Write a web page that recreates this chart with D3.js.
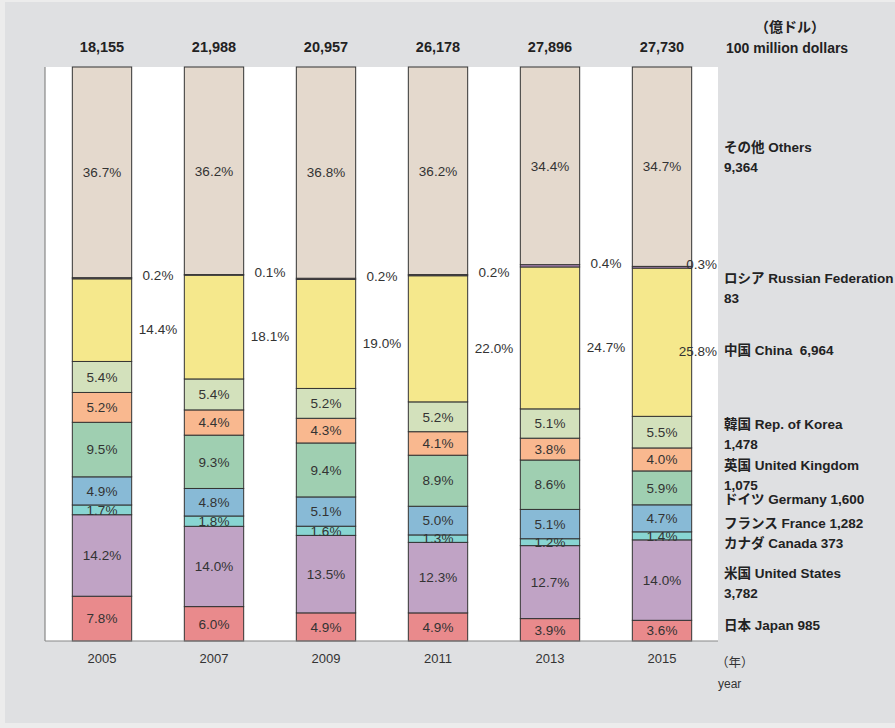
<!DOCTYPE html>
<html>
<head>
<meta charset="utf-8">
<script src="https://cdn.jsdelivr.net/npm/d3@7"></script>
<style>
  body { margin: 0; background: #ececec; }
  svg { display: block; }
  text { font-family: "Liberation Sans", Arial, "Noto Sans CJK JP", sans-serif; white-space: pre; }
</style>
</head>
<body>
<svg id="chart" width="895" height="728"></svg>
<script>
// data (shares in %, bottom to top)
const years = ["2005", "2007", "2009", "2011", "2013", "2015"];
const totals = [18155, 21988, 20957, 26178, 27896, 27730];

const japan   = [7.8, 6.0, 4.9, 4.9, 3.9, 3.6];
const usa     = [14.2, 14.0, 13.5, 12.3, 12.7, 14.0];
const canada  = [1.7, 1.8, 1.6, 1.3, 1.2, 1.4];
const france  = [4.9, 4.8, 5.1, 5.0, 5.1, 4.7];
const germany = [9.5, 9.3, 9.4, 8.9, 8.6, 5.9];
const uk      = [5.2, 4.4, 4.3, 4.1, 3.8, 4.0];
const korea   = [5.4, 5.4, 5.2, 5.2, 5.1, 5.5];
const china   = [14.4, 18.1, 19.0, 22.0, 24.7, 25.8];
const russia  = [0.2, 0.1, 0.2, 0.2, 0.4, 0.3];
const others  = [36.7, 36.2, 36.8, 36.2, 34.4, 34.7];

const keys = ["japan", "usa", "canada", "france", "germany", "uk", "korea", "china", "russia", "others"];
const series = { japan, usa, canada, france, germany, uk, korea, china, russia, others };
const colors = ["#e98a8c", "#c0a3c5", "#88d5d2", "#88bad6", "#9fcfb1", "#f9b88f", "#d3e1bc", "#f5e88c", "#b98fc4", "#e4d9cd"];

// legend on the right (lines of each entry)
const legendLines = [
  ["その他 Others", "9,364"],
  ["ロシア Russian Federation", "83"],
  ["中国 China  6,964"],
  ["韓国 Rep. of Korea", "1,478"],
  ["英国 United Kingdom", "1,075"],
  ["ドイツ Germany 1,600"],
  ["フランス France 1,282"],
  ["カナダ Canada 373"],
  ["米国 United States", "3,782"],
  ["日本 Japan 985"]
];
const legendY = [147, 278, 350, 424, 465, 499, 523, 543, 573, 625];

const svg = d3.select("#chart");
const W = 895, H = 728;
const plotL = 45, plotR = 718, plotT = 67, plotB = 641;

// background panel
svg.append("rect").attr("x", 5).attr("y", 2).attr("width", W - 5).attr("height", 721).attr("fill", "#dfe0e2");
svg.append("rect").attr("x", plotL).attr("y", plotT).attr("width", plotR - plotL).attr("height", plotB - plotT).attr("fill", "#fff");

const rows = years.map((yr, i) => {
  const r = { year: yr };
  keys.forEach(k => r[k] = series[k][i]);
  return r;
});

const stacked = d3.stack().keys(keys).offset(d3.stackOffsetExpand)(rows);

const x = d3.scaleBand().domain(years).range([plotL + 1, plotR]).paddingInner(0.47).paddingOuter(0.235);
const y = d3.scaleLinear().domain([0, 1]).range([plotB, plotT]);
const fmt = d3.format(",");

const layers = svg.selectAll("g.layer").data(stacked).enter().append("g")
  .attr("class", "layer")
  .attr("fill", (d, i) => colors[i]);

layers.selectAll("rect").data(d => d).enter().append("rect")
  .attr("x", d => x(d.data.year))
  .attr("width", x.bandwidth())
  .attr("y", d => y(d[1]))
  .attr("height", d => y(d[0]) - y(d[1]))
  .attr("stroke", "#333")
  .attr("stroke-width", 1);

// percentage labels
const gap = x.step() - x.bandwidth();
stacked.forEach(layer => {
  const k = layer.key;
  layer.forEach((d, i) => {
    const cy = (y(d[0]) + y(d[1])) / 2;
    const v = series[k][i].toFixed(1) + "%";
    const t = svg.append("text")
      .attr("font-size", 13.5)
      .attr("fill", "#333")
      .attr("dy", "0.35em")
      .text(v);
    if (k === "china" || k === "russia") {
      const last = i === years.length - 1;
      const gx = x(d.data.year) + x.bandwidth() + gap / 2;
      t.attr("x", last ? plotR - 1 : gx)
        .attr("text-anchor", last ? "end" : "middle")
        .attr("y", k === "china" ? cy + 9 : cy - 3);
    } else {
      t.attr("x", x(d.data.year) + x.bandwidth() / 2)
        .attr("text-anchor", "middle")
        .attr("y", cy);
    }
  });
});

// axes lines
svg.append("line").attr("x1", plotL).attr("x2", plotL).attr("y1", plotT).attr("y2", plotB).attr("stroke", "#888").attr("stroke-width", 1.2);
svg.append("line").attr("x1", plotL).attr("x2", plotR).attr("y1", plotB).attr("y2", plotB).attr("stroke", "#888").attr("stroke-width", 1.2);

// year labels
svg.selectAll("text.year").data(years).enter().append("text")
  .attr("class", "year")
  .attr("x", d => x(d) + x.bandwidth() / 2)
  .attr("y", 658)
  .attr("dy", "0.35em")
  .attr("text-anchor", "middle")
  .attr("font-size", 13)
  .attr("fill", "#333")
  .text(d => d);

// totals above bars
svg.selectAll("text.total").data(totals).enter().append("text")
  .attr("class", "total")
  .attr("x", (d, i) => x(years[i]) + x.bandwidth() / 2)
  .attr("y", 47)
  .attr("dy", "0.35em")
  .attr("text-anchor", "middle")
  .attr("font-size", 14.5)
  .attr("font-weight", "bold")
  .attr("fill", "#222")
  .text(d => fmt(d));

// unit
svg.append("text").attr("x", 790).attr("y", 27).attr("dy", "0.35em").attr("text-anchor", "middle")
  .attr("font-size", 14).attr("font-weight", "bold").attr("fill", "#222").text("（億ドル）");
svg.append("text").attr("x", 726).attr("y", 48).attr("dy", "0.35em")
  .attr("font-size", 14).attr("font-weight", "bold").attr("fill", "#222").text("100 million dollars");

// legend
legendLines.forEach((lines, i) => {
  lines.forEach((s, j) => {
    svg.append("text")
      .attr("x", 724)
      .attr("y", legendY[i] + j * 20)
      .attr("dy", "0.35em")
      .attr("font-size", 13.5)
      .attr("font-weight", "bold")
      .attr("fill", "#222")
      .text(s);
  });
});

// x unit
svg.append("text").attr("x", 716).attr("y", 663).attr("dy", "0.35em")
  .attr("font-size", 12.5).attr("fill", "#333").text("（年）");
svg.append("text").attr("x", 718).attr("y", 684).attr("dy", "0.35em")
  .attr("font-size", 12).attr("fill", "#333").text("year");
</script>
</body>
</html>
